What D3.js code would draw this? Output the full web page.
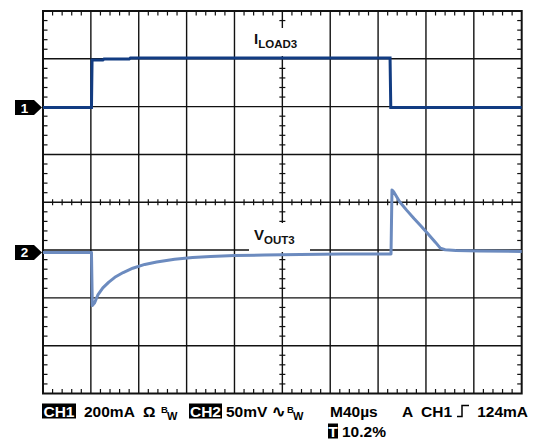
<!DOCTYPE html>
<html><head><meta charset="utf-8">
<script src="https://cdn.jsdelivr.net/npm/d3@7"></script>
<style>
body{margin:0;background:#fff}
svg{display:block}
text{font-family:"Liberation Sans",Arial,Helvetica,sans-serif;font-weight:bold}
</style>
</head><body>
<svg id="c" width="540" height="442"></svg>
<script>
// ---- data (time in µs, 40 µs/div; CH1 in mA, 200 mA/div; CH2 in mV, 50 mV/div)
const timeRange = [0, 400];
const divRange = [-4, 4];
const ch1Time = [0, 40.5, 41, 50, 51, 72, 73, 100, 150, 200, 250, 290, 290.6, 320, 400];
const ch1mA   = [0, 0, 199, 199, 203, 203, 207, 207, 207, 207, 207, 207, 0, 0, 0];
const ch2Time = [0, 20, 40.5, 41.2, 43, 46, 50, 55, 60, 67, 75, 85, 95, 110, 125, 140, 160, 185, 215, 250, 290.8, 291.6, 293, 298, 304, 310, 316, 322, 328, 332, 336, 345, 365, 400];
const ch2mV   = [0, 0, 0, -55.6, -53, -44, -37, -31, -26, -21, -16.5, -12.5, -10, -7, -5.2, -4.2, -3.3, -2.6, -2.1, -1.7, -1.6, 65.4, 63.5, 53, 44, 35.5, 27.5, 19, 10.5, 4.5, 2.8, 2, 1.6, 1.0];
const ch1Offset = 1.98, ch2Offset = -1.05;   // divisions from center
const ch1PerDiv = 200, ch2PerDiv = 50;
const labelsRow1 = ["200mA", "50mV", "M40µs", "A", "124mA"];

// ---- layout
const L = 43, R = 521.7, T = 11, B = 393.5;
const svg = d3.select("#c");
const x = d3.scaleLinear().domain(timeRange).range([L, R]);
const y = d3.scaleLinear().domain(divRange).range([B, T]);
const xc = x(200), yc = y(0);

// grid
const g = svg.append("g");
const vLines = d3.range(timeRange[0], timeRange[1] + 1, 40);
const hLines = d3.range(divRange[0], divRange[1] + 1, 1);
g.selectAll(".v").data(vLines.slice(1, -1)).join("line")
  .attr("x1", d => x(d)).attr("x2", d => x(d)).attr("y1", T).attr("y2", B)
  .attr("stroke", "#111").attr("stroke-width", 1.4);
g.selectAll(".h").data(hLines.slice(1, -1)).join("line")
  .attr("y1", d => y(d)).attr("y2", d => y(d)).attr("x1", L).attr("x2", R)
  .attr("stroke", "#111").attr("stroke-width", 1.4);

// minor ticks
const tMinor = d3.range(timeRange[0], timeRange[1] + 0.1, 8).filter(d => d % 40 !== 0);
const dMinor = d3.range(-4, 4.01, 0.2).map(d => +d.toFixed(1)).filter(d => Math.abs(d - Math.round(d)) > 0.01);
const tk = svg.append("g").attr("stroke", "#111").attr("stroke-width", 1.2);
tMinor.forEach(t => {
  tk.append("line").attr("x1", x(t)).attr("x2", x(t)).attr("y1", T).attr("y2", T + 4.5);
  tk.append("line").attr("x1", x(t)).attr("x2", x(t)).attr("y1", B - 4.5).attr("y2", B);
  tk.append("line").attr("x1", x(t)).attr("x2", x(t)).attr("y1", yc - 3).attr("y2", yc + 3);
});
dMinor.forEach(d => {
  tk.append("line").attr("y1", y(d)).attr("y2", y(d)).attr("x1", L).attr("x2", L + 4.5);
  tk.append("line").attr("y1", y(d)).attr("y2", y(d)).attr("x1", R - 4.5).attr("x2", R);
  tk.append("line").attr("y1", y(d)).attr("y2", y(d)).attr("x1", xc - 3).attr("x2", xc + 3);
});
// border
svg.append("rect").attr("x", L).attr("y", T).attr("width", R - L).attr("height", B - T)
  .attr("fill", "none").attr("stroke", "#111").attr("stroke-width", 2);

// trace labels with white backgrounds
svg.append("rect").attr("x", 250).attr("y", 28).attr("width", 58).attr("height", 28).attr("fill", "#fff");
svg.append("rect").attr("x", 249).attr("y", 223).attr("width", 61).attr("height", 29).attr("fill", "#fff");
const l1 = svg.append("text").attr("x", 254).attr("y", 44).attr("fill", "#111");
l1.append("tspan").attr("font-size", 15).text("I");
l1.append("tspan").attr("font-size", 11.5).attr("dy", 3.5).text("LOAD3");
const l2 = svg.append("text").attr("x", 254).attr("y", 240).attr("fill", "#111");
l2.append("tspan").attr("font-size", 15).text("V");
l2.append("tspan").attr("font-size", 11.5).attr("dy", 3.5).text("OUT3");

// traces
const line = d3.line().x(d => x(d[0])).y(d => y(d[1]));
svg.append("path").datum(ch2Time.map((t, i) => [t, ch2Offset + ch2mV[i] / ch2PerDiv]))
  .attr("d", line).attr("fill", "none").attr("stroke", "#6c8bbf").attr("stroke-width", 3)
  .attr("stroke-linejoin", "round");
svg.append("path").datum(ch1Time.map((t, i) => [t, ch1Offset + ch1mA[i] / ch1PerDiv]))
  .attr("d", line).attr("fill", "none").attr("stroke", "#123c82").attr("stroke-width", 3)
  .attr("stroke-linejoin", "miter");

// channel markers
function marker(level, label) {
  const cy = y(level);
  svg.append("path").attr("d", `M15,${cy - 7.5}H34L42,${cy}L34,${cy + 7.5}H15Z`).attr("fill", "#000");
  svg.append("text").attr("x", 24.5).attr("y", cy + 5).attr("text-anchor", "middle")
    .attr("font-size", 13.5).attr("fill", "#fff").text(label);
}
marker(ch1Offset, "1");
marker(ch2Offset, "2");

// bottom readout
const fs = 15.5, by = 416.5;
function boxed(x0, w, yb, txt) {
  svg.append("rect").attr("x", x0).attr("y", yb - 13).attr("width", w).attr("height", 15).attr("fill", "#000");
  svg.append("text").attr("x", x0 + w / 2).attr("y", yb).attr("text-anchor", "middle")
    .attr("font-size", fs).attr("fill", "#fff").text(txt);
}
function txt(x0, yb, s, size, anchor) {
  return svg.append("text").attr("x", x0).attr("y", yb).attr("font-size", size || fs)
    .attr("text-anchor", anchor || "start").attr("fill", "#000").text(s);
}
boxed(42, 34, by, "CH1");
txt(84, by, labelsRow1[0]);
txt(143, by, "Ω");
txt(161, by - 4, "B", 9.5);
txt(167, by + 3.5, "W", 11);
boxed(189, 33, by, "CH2");
txt(226, by, labelsRow1[1]);
txt(272, by, "∿");
txt(287, by - 4, "B", 9.5);
txt(293, by + 3.5, "W", 11);
txt(330, by, labelsRow1[2]);
txt(402, by, labelsRow1[3]);
txt(421, by, "CH1");
svg.append("path").attr("d", `M457,${by}H462V${by - 11}H469`).attr("fill", "none").attr("stroke", "#000").attr("stroke-width", 1.5);
txt(528, by, labelsRow1[4], fs, "end");
boxed(328, 10, by + 20, "T");
txt(342, by + 20, "10.2%");
</script>
</body></html>
